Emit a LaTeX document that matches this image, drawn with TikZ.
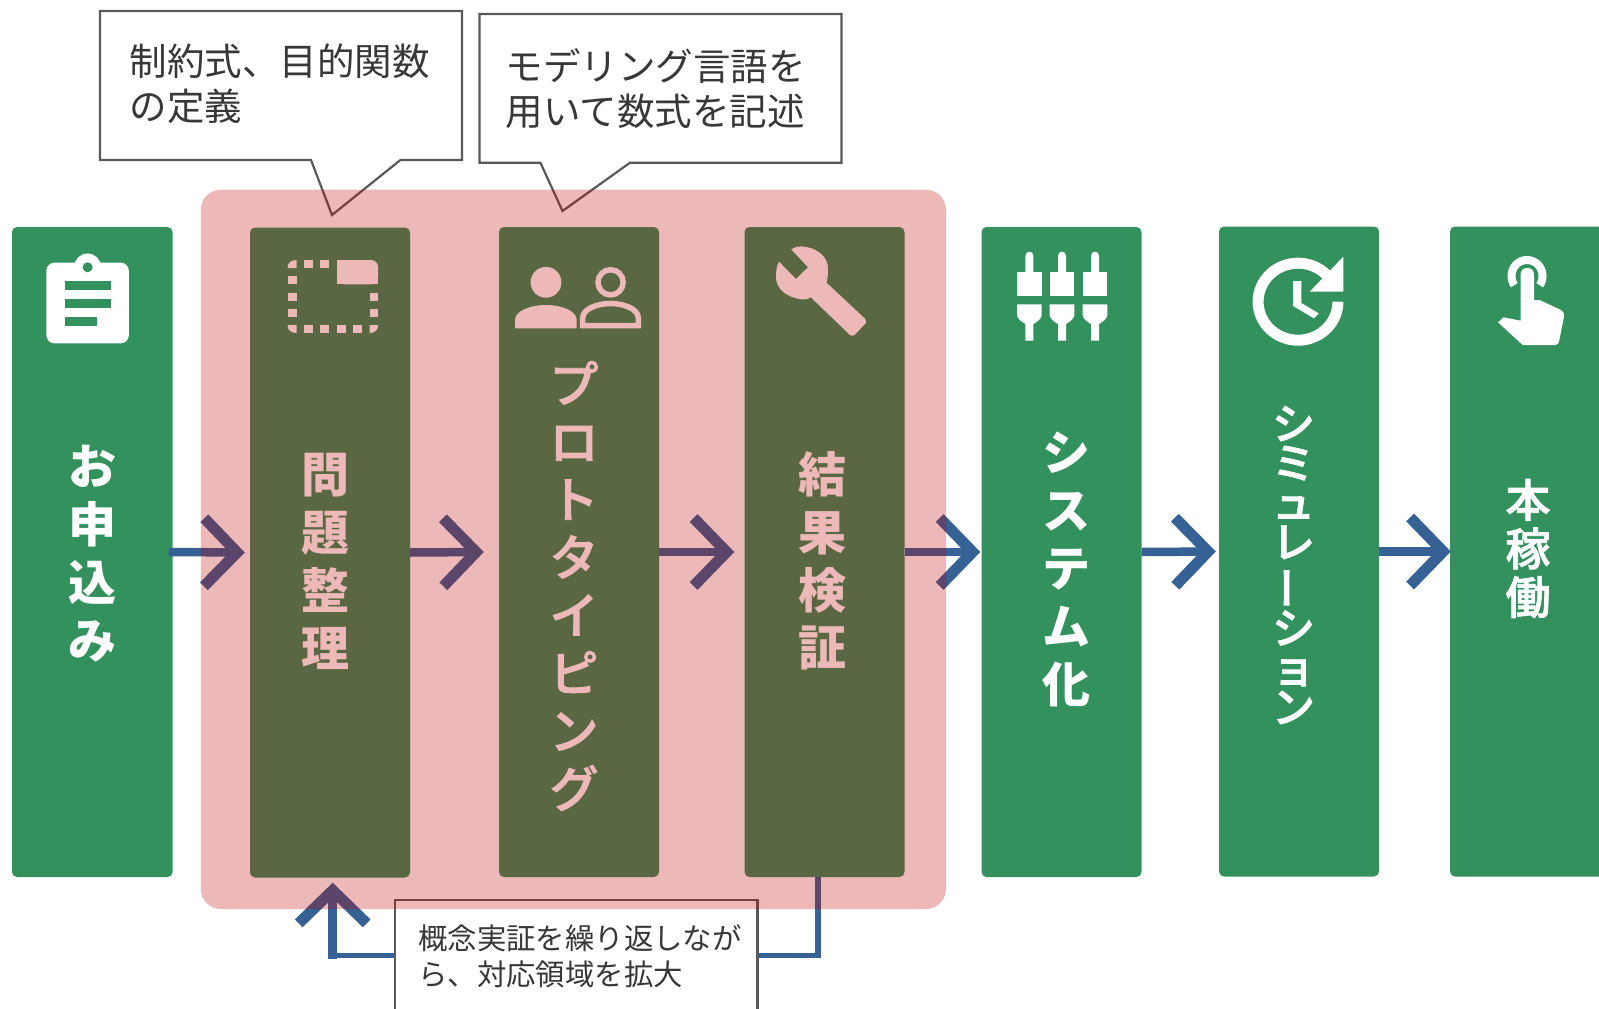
\documentclass[tikz,border=0pt]{standalone}
\usepackage{fontspec}
\setmainfont{Noto Sans CJK JP}
\newfontfamily\mediumface[FakeBold=1.8]{Noto Sans CJK JP Medium}
\usetikzlibrary{arrows.meta,calc}
\definecolor{stepgreen}{HTML}{32915C}
\definecolor{flowblue}{HTML}{356194}
\definecolor{overlayred}{HTML}{C00000}
\definecolor{calloutline}{HTML}{595959}
\definecolor{callouttext}{HTML}{383838}
\tikzset{
  stepbox/.style={fill=stepgreen,rounded corners=5pt,inner sep=0pt,minimum height=650pt,minimum width=160pt},
  vlabel/.style={text=white,inner sep=0pt,align=center,font=\bfseries\fontsize{48}{57.8}\selectfont},
  vlabelkana/.style={text=white,inner sep=0pt,align=center,font=\mediumface\fontsize{49}{57.8}\selectfont},
  vlabelsmall/.style={text=white,inner sep=0pt,align=center,font=\mediumface\fontsize{43}{39.5}\selectfont},
  vlabelmid/.style={text=white,inner sep=0pt,align=center,font=\mediumface\fontsize{45}{48.5}\selectfont},
  flow/.style={draw=flowblue,line width=8.5pt,-{Straight Barb[length=33pt,width=68pt,line width=11pt]}},
  loopline/.style={draw=flowblue,line width=5.5pt},
  callout/.style={draw=calloutline,line width=2.2pt,fill=white,line join=miter},
  calloutlabel/.style={text=callouttext,inner sep=0pt,anchor=west,align=left,font=\fontsize{37.5}{45}\selectfont},
  calloutlabelsmall/.style={text=callouttext,inner sep=0pt,anchor=west,align=left,font=\fontsize{29.4}{36}\selectfont},
  icon/.style={fill=white,draw=none},
}
\begin{document}
\begin{tikzpicture}[x=1pt,y=-1pt]
\useasboundingbox (0,0) rectangle (1599,1009);
\clip (0,0) rectangle (1599,1009);
% boxes
\node[stepbox,minimum width=160.6pt] (b1) at (92.3,552) {};
\node[stepbox] (b2) at (330,552.5) {};
\node[stepbox] (b3) at (579,552) {};
\node[stepbox] (b4) at (824.5,552) {};
\node[stepbox] (b5) at (1061.5,552) {};
\node[stepbox] (b6) at (1299,551.5) {};
\node[stepbox] (b7) at (1530,551.5) {};
% connectors
\draw[flow] ([xshift=-4pt]b1.east) -- ([xshift=-5pt]b2.west);
\draw[flow] (b2.east) -- ([xshift=-15pt]b3.west);
\draw[flow] (b3.east) -- ([xshift=-10pt]b4.west);
\draw[flow] (b4.east) -- ([xshift=-1pt]b5.west);
\draw[flow] (b5.east) -- ([xshift=-3pt]b6.west);
\draw[flow] (b6.east) -- ([xshift=1pt]b7.west);
\coordinate (loopturn) at (332.7,955.7);
\draw[loopline] ([xshift=-6.5pt]b4.south) |- (loopturn);
\draw[flow] ([yshift=-3pt]loopturn) -- ([xshift=2.7pt,yshift=-5pt]b2.south);
% callouts
\draw[callout] (100,11) -- (462,11) -- (462,160) -- (400.4,160) -- (332,215) -- (311,160) -- (100,160) -- cycle;
\node[calloutlabel] (c1) at (129.5,83.5) {制約式、目的関数\\の定義};
\draw[callout] (479.5,14) -- (841.5,14) -- (841.5,162.7) -- (630,162.7) -- (562.5,211) -- (540.4,162.7) -- (479.5,162.7) -- cycle;
\node[calloutlabel] (c2) at (505.5,89) {モデリング言語を\\用いて数式を記述};
\draw[callout] (395,900) rectangle (757.5,1020);
\node[calloutlabelsmall] (c3) at (418,956) {概念実証を繰り返しなが\\ら、対応領域を拡大};
% labels
\node[vlabel] (t1) at (92,553.5) {お\\申\\込\\み};
\node[vlabel] (t2) at (325,561.5) {問\\題\\整\\理};
\node[vlabelkana] (t3) at (574,586) {プ\\ロ\\ト\\タ\\イ\\ピ\\ン\\グ};
\node[vlabel] (t4) at (822,561) {結\\果\\検\\証};
\node[vlabel] (t5) at (1066,569.5) {シ\\ス\\テ\\ム\\化};
\node[vlabelsmall] (t6) at (1293.5,565) {シ\\ミ\\ュ\\レ\\\rotatebox[origin=c]{90}{ー}\\シ\\ョ\\ン};
\node[vlabelmid] (t7) at (1528,548.5) {本\\稼\\働};
% clipboard icon
\fill[icon,even odd rule,rounded corners=8pt] (46.4,262.7) rectangle (128.8,343.3);
\fill[icon] (87.6,267) circle (13.5pt);
\fill[stepgreen] (87.6,267.3) circle (5pt);
\fill[stepgreen] (65,280.7) rectangle (110.6,290);
\fill[stepgreen] (65,298.7) rectangle (110.6,307.7);
\fill[stepgreen] (65,316.7) rectangle (97,325.7);
% frame icon
\fill[icon,rounded corners=7pt] (337,284.3) -- (337,260) -- (378,260) -- (378,284.3) -- cycle;
\fill[icon] (337,284.3) rectangle (350,272);
\fill[icon] (365,284.3) rectangle (378,272);
\fill[icon] (337,260) rectangle (350,272);
\foreach \xa in {304,320}{\fill[icon] (\xa,260) rectangle ++(8.5,8);}
\foreach \xa in {304,320,337,353}{\fill[icon] (\xa,325) rectangle ++(8.5,8);}
\foreach \ya in {276,292.7,308.7}{\fill[icon] (287.5,\ya) rectangle ++(9,8.3);}
\foreach \ya in {292.7,308.7}{\fill[icon] (369.5,\ya) rectangle ++(8.5,8.3);}
\fill[icon] (296.5,260) -- (296.5,268) -- (287.5,268) .. controls (287.5,263) and (291,260) .. (296.5,260) -- cycle;
\fill[icon] (296.5,333) -- (296.5,325) -- (287.5,325) .. controls (287.5,330) and (291,333) .. (296.5,333) -- cycle;
\fill[icon] (369.5,333) -- (369.5,325) -- (378,325) .. controls (378,330) and (375,333) .. (369.5,333) -- cycle;
% people icon
\fill[icon] (546,282.3) circle (15.4pt);
\fill[icon] (515,328.3) -- (515,320) .. controls (515,311) and (530,305) .. (546,305) .. controls (562,305) and (576.7,311) .. (576.7,320) -- (576.7,328.3) -- cycle;
\draw[white,line width=5.5pt] (610.6,282.3) circle (12.6pt);
\draw[white,line width=5.5pt,line join=miter] (582.7,325.6) -- (582.7,318) .. controls (582.7,309) and (597,303.5) .. (610.6,303.5) .. controls (624,303.5) and (638.3,309) .. (638.3,318) -- (638.3,325.6) -- cycle;
% wrench icon
\fill[icon] (791.2,249.3) .. controls (796,246.5) and (800,246) .. (804,246.7) .. controls (818,248) and (829,258) .. (828,270) .. controls (828,275) and (827.5,279) .. (826.5,282.7) -- (864.6,318.3) .. controls (866,320) and (866.5,321.5) .. (865.7,323.3) -- (854.5,335) .. controls (853,336) and (851,336) .. (850,335) -- (810.8,297.3) .. controls (807,299.5) and (804,299.7) .. (801.3,299.3) .. controls (785,297) and (776,288) .. (776,276.7) .. controls (776,270) and (777,265) .. (779,261.7) -- (796,279) -- (808,267.3) -- cycle;
% sliders icon
\foreach \xa in {1029.4,1062,1095}{
  \fill[icon] (\xa-4,272) -- (\xa-4,256) .. controls (\xa-4,253) and (\xa-2,251.7) .. (\xa,251.7) .. controls (\xa+2,251.7) and (\xa+4,253) .. (\xa+4,256) -- (\xa+4,272) -- cycle;
  \fill[icon] (\xa-12.3,272) rectangle (\xa+12.3,296.3);
  \fill[icon] (\xa-12.3,304.3) -- (\xa+12.3,304.3) -- (\xa+12.3,315) .. controls (\xa+12.3,319) and (\xa+7,322) .. (\xa+4,324) -- (\xa+4,340.7) -- (\xa-4,340.7) -- (\xa-4,324) .. controls (\xa-7,322) and (\xa-12.3,319) .. (\xa-12.3,315) -- cycle;
}
% clock icon
\draw[white,line width=11pt,line join=round] plot[domain=0:318,samples=80,smooth] ({1298+39.9*cos(\x)},{301.7+38.5*sin(\x)});
\fill[icon] (1343.3,256.7) -- (1343.3,291.7) -- (1309.7,291.7) -- cycle;
\fill[icon] (1293,281) -- (1301.3,281) -- (1301.3,303) -- (1318.7,313.3) -- (1314,318.3) -- (1293,306) -- cycle;
% hand icon
\draw[white,line width=8pt] plot[domain=145:395,samples=50,smooth] ({1527+15.5*cos(\x)},{276+16*sin(\x)});
\fill[icon] (1520.5,320.7) -- (1520.5,276) .. controls (1520.5,270) and (1523,268) .. (1527.2,268) .. controls (1531.5,268) and (1534,270) .. (1534,276) -- (1534,300) -- (1539.5,300) -- (1561,310) .. controls (1563.5,311.5) and (1564.5,313.5) .. (1564,316.7) -- (1559,341.7) .. controls (1558.5,344) and (1557,345) .. (1555,345) -- (1522.7,345) -- (1498,322.3) -- (1503.6,317.3) -- cycle;
% translucent band over the central steps
\fill[overlayred,opacity=.28,rounded corners=20pt] (200.8,189.7) rectangle (946,909);
\end{tikzpicture}
\end{document}
